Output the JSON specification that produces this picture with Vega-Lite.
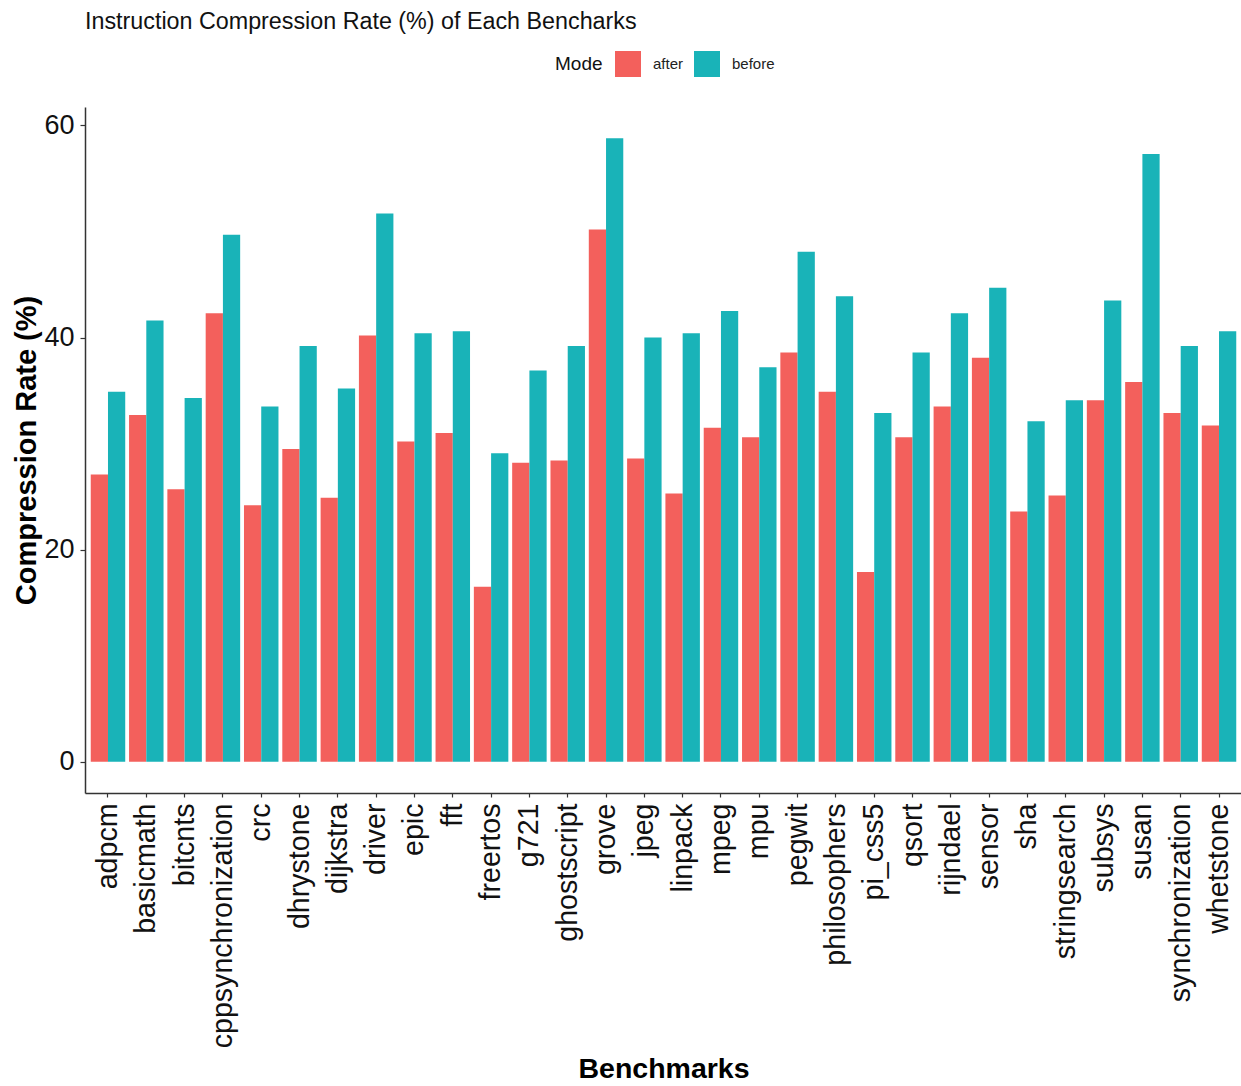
{
  "$schema": "https://vega.github.io/schema/vega-lite/v6.json",
  "autosize": "none",
  "padding": {"left": 85, "top": 107, "right": 0, "bottom": 293},
  "width": 1157,
  "height": 686,
  "background": "white",
  "config": {
    "view": {"stroke": null},
    "font": "Liberation Sans",
    "axis": {"grid": false, "domainColor": "#333333", "domainWidth": 1.5, "tickColor": "#333333", "tickWidth": 1.2, "labelColor": "#111111", "titleColor": "#000000", "labelLimit": 0}
  },
  "title": {"text": "Instruction Compression Rate (%) of Each Bencharks", "anchor": "start", "frame": "group", "fontSize": 23.3, "fontWeight": "normal", "font": "Liberation Sans", "color": "#111111", "offset": 17},
  "data": {"values": [
    {"Benchmark": "adpcm", "Mode": "after", "Rate": 27.1}, {"Benchmark": "adpcm", "Mode": "before", "Rate": 34.9},
    {"Benchmark": "basicmath", "Mode": "after", "Rate": 32.7}, {"Benchmark": "basicmath", "Mode": "before", "Rate": 41.6},
    {"Benchmark": "bitcnts", "Mode": "after", "Rate": 25.7}, {"Benchmark": "bitcnts", "Mode": "before", "Rate": 34.3},
    {"Benchmark": "cppsynchronization", "Mode": "after", "Rate": 42.3}, {"Benchmark": "cppsynchronization", "Mode": "before", "Rate": 49.7},
    {"Benchmark": "crc", "Mode": "after", "Rate": 24.2}, {"Benchmark": "crc", "Mode": "before", "Rate": 33.5},
    {"Benchmark": "dhrystone", "Mode": "after", "Rate": 29.5}, {"Benchmark": "dhrystone", "Mode": "before", "Rate": 39.2},
    {"Benchmark": "dijkstra", "Mode": "after", "Rate": 24.9}, {"Benchmark": "dijkstra", "Mode": "before", "Rate": 35.2},
    {"Benchmark": "driver", "Mode": "after", "Rate": 40.2}, {"Benchmark": "driver", "Mode": "before", "Rate": 51.7},
    {"Benchmark": "epic", "Mode": "after", "Rate": 30.2}, {"Benchmark": "epic", "Mode": "before", "Rate": 40.4},
    {"Benchmark": "fft", "Mode": "after", "Rate": 31.0}, {"Benchmark": "fft", "Mode": "before", "Rate": 40.6},
    {"Benchmark": "freertos", "Mode": "after", "Rate": 16.5}, {"Benchmark": "freertos", "Mode": "before", "Rate": 29.1},
    {"Benchmark": "g721", "Mode": "after", "Rate": 28.2}, {"Benchmark": "g721", "Mode": "before", "Rate": 36.9},
    {"Benchmark": "ghostscript", "Mode": "after", "Rate": 28.4}, {"Benchmark": "ghostscript", "Mode": "before", "Rate": 39.2},
    {"Benchmark": "grove", "Mode": "after", "Rate": 50.2}, {"Benchmark": "grove", "Mode": "before", "Rate": 58.8},
    {"Benchmark": "jpeg", "Mode": "after", "Rate": 28.6}, {"Benchmark": "jpeg", "Mode": "before", "Rate": 40.0},
    {"Benchmark": "linpack", "Mode": "after", "Rate": 25.3}, {"Benchmark": "linpack", "Mode": "before", "Rate": 40.4},
    {"Benchmark": "mpeg", "Mode": "after", "Rate": 31.5}, {"Benchmark": "mpeg", "Mode": "before", "Rate": 42.5},
    {"Benchmark": "mpu", "Mode": "after", "Rate": 30.6}, {"Benchmark": "mpu", "Mode": "before", "Rate": 37.2},
    {"Benchmark": "pegwit", "Mode": "after", "Rate": 38.6}, {"Benchmark": "pegwit", "Mode": "before", "Rate": 48.1},
    {"Benchmark": "philosophers", "Mode": "after", "Rate": 34.9}, {"Benchmark": "philosophers", "Mode": "before", "Rate": 43.9},
    {"Benchmark": "pi_css5", "Mode": "after", "Rate": 17.9}, {"Benchmark": "pi_css5", "Mode": "before", "Rate": 32.9},
    {"Benchmark": "qsort", "Mode": "after", "Rate": 30.6}, {"Benchmark": "qsort", "Mode": "before", "Rate": 38.6},
    {"Benchmark": "rijndael", "Mode": "after", "Rate": 33.5}, {"Benchmark": "rijndael", "Mode": "before", "Rate": 42.3},
    {"Benchmark": "sensor", "Mode": "after", "Rate": 38.1}, {"Benchmark": "sensor", "Mode": "before", "Rate": 44.7},
    {"Benchmark": "sha", "Mode": "after", "Rate": 23.6}, {"Benchmark": "sha", "Mode": "before", "Rate": 32.1},
    {"Benchmark": "stringsearch", "Mode": "after", "Rate": 25.1}, {"Benchmark": "stringsearch", "Mode": "before", "Rate": 34.1},
    {"Benchmark": "subsys", "Mode": "after", "Rate": 34.1}, {"Benchmark": "subsys", "Mode": "before", "Rate": 43.5},
    {"Benchmark": "susan", "Mode": "after", "Rate": 35.8}, {"Benchmark": "susan", "Mode": "before", "Rate": 57.3},
    {"Benchmark": "synchronization", "Mode": "after", "Rate": 32.9}, {"Benchmark": "synchronization", "Mode": "before", "Rate": 39.2},
    {"Benchmark": "whetstone", "Mode": "after", "Rate": 31.7}, {"Benchmark": "whetstone", "Mode": "before", "Rate": 40.6}
  ]},
  "mark": {"type": "bar"},
  "encoding": {
    "x": {
      "field": "Benchmark", "type": "nominal",
      "scale": {"paddingInner": 0.1, "paddingOuter": 0.15},
      "axis": {"title": "Benchmarks", "titleFontSize": 28.5, "titleFontWeight": "bold", "titlePadding": 61, "labelAngle": -90, "labelAlign": "right", "labelBaseline": "middle", "labelFontSize": 28.6, "labelLimit": 0, "tickSize": 4, "labelPadding": 6}
    },
    "xOffset": {"field": "Mode", "type": "nominal", "scale": {"paddingInner": 0, "paddingOuter": 0}},
    "y": {
      "field": "Rate", "type": "quantitative",
      "scale": {"domain": [-2.94, 61.74], "nice": false, "zero": false},
      "axis": {"title": "Compression Rate (%)", "titleFontSize": 29, "titleFontWeight": "bold", "titlePadding": 2, "values": [0, 20, 40, 60], "labelFontSize": 27, "tickSize": 5, "labelPadding": 6}
    },
    "y2": {"datum": 0},
    "color": {
      "field": "Mode", "type": "nominal",
      "scale": {"domain": ["after", "before"], "range": ["#F3605C", "#19B3B8"]},
      "legend": {"title": "Mode", "orient": "none", "legendX": 470, "legendY": -56, "direction": "horizontal", "titleOrient": "left", "symbolType": "square", "symbolSize": 676, "symbolStrokeWidth": 0, "symbolOpacity": 1, "labelFontSize": 15, "labelColor": "#222222", "titleFontSize": 19, "titleFontWeight": "normal", "titleColor": "#111111", "titlePadding": 12, "labelOffset": 12, "columnPadding": 10}
    }
  }
}
